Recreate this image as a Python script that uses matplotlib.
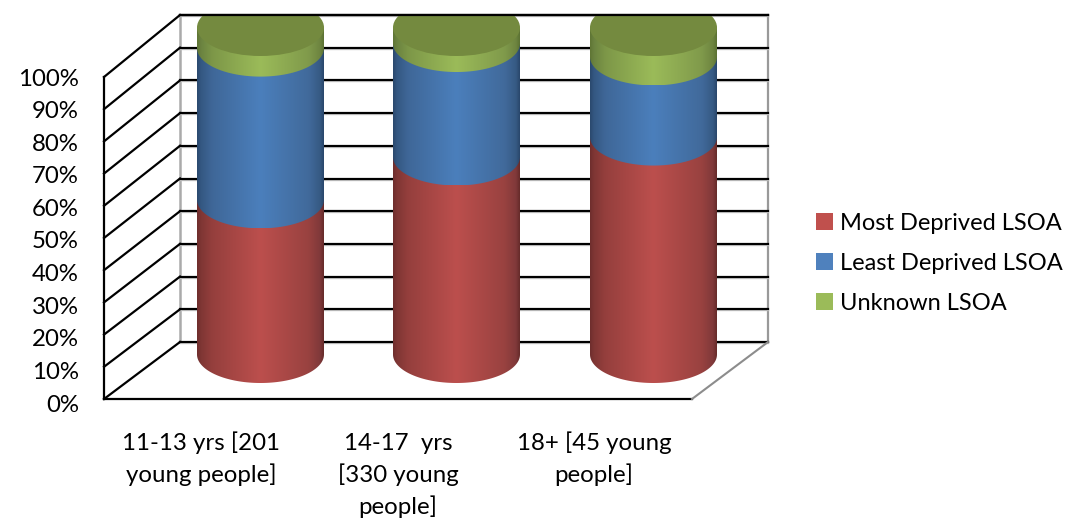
import numpy as np
import matplotlib
matplotlib.use("Agg")
import matplotlib.pyplot as plt
from matplotlib.patches import Polygon, Rectangle, Ellipse
from matplotlib.colors import LinearSegmentedColormap

categories = ["11-13 yrs [201\nyoung people]", "14-17  yrs\n[330 young\npeople]", "18+ [45 young\npeople]"]
series_names = ["Most Deprived LSOA", "Least Deprived LSOA", "Unknown LSOA"]
most_deprived = [47.3, 60.4, 66.5]
least_deprived = [46.4, 34.7, 24.5]
unknown = [6.3, 4.9, 9.0]
tick_values = list(range(0, 101, 10))

plt.rcParams["font.family"] = ["Lato", "DejaVu Sans"]
FS = 17.3
fig = plt.figure(figsize=(10.65, 5.21), dpi=100)
ax = fig.add_axes([0, 0, 1, 1])
ax.set_xlim(0, 1065)
ax.set_ylim(521, 0)
ax.axis("off")

# wall geometry
FX0, FX1, FY0, FY100 = 104, 692, 399, 77
BX0, BX1, BY0, BY100 = 180, 768, 342, 15
def fy(v): return FY0 + (FY100 - FY0) * v / 100
def by(v): return BY0 + (BY100 - BY0) * v / 100

LW = 1.6
ax.plot([BX1, BX1], [BY100, BY0], color="#999999", lw=1.6, zorder=1)
ax.plot([BX0, BX0], [BY100, BY0], color="#aaaaaa", lw=1.8, zorder=1)
for v in tick_values:
    y = by(v)
    ax.plot([BX0, BX1], [y + 1, y + 1], color="#cccccc", lw=1.0, zorder=1)
    ax.plot([BX0, BX1], [y, y], color="black", lw=LW, zorder=1.2)
    ax.plot([FX0, BX0], [fy(v), y], color="black", lw=LW, zorder=1.2)
    ax.text(79, 405 - 3.26 * v, f"{v}%", ha="right", va="center", fontsize=FS, color="black")
ax.plot([FX0, FX0], [FY100, FY0], color="black", lw=LW, zorder=1.2)
ax.plot([FX0, FX1], [FY0, FY0], color="black", lw=LW, zorder=1.2)
ax.plot([FX1, BX1], [FY0, BY0], color="#8c8c8c", lw=1.5, zorder=1.2)

# cylinders
centers = [260.5, 456.5, 653.5]
A, B = 63.5, 28.5
C0, SCALE = 354.5, 3.27
def cy(v): return C0 - SCALE * v

stops = [0, 0.03, 0.12, 0.5, 0.88, 0.97, 1]
ramps = [
    ["#6e2e2d", "#7f3634", "#953f3d", "#bc4f4d", "#994240", "#80393a", "#662b2a"],
    ["#2b496e", "#345882", "#3f6798", "#4b7fbc", "#416a9b", "#365a84", "#2a476b"],
    ["#5f7535", "#6b8340", "#7d9748", "#9bbb59", "#809a4b", "#6e8540", "#5c7233"],
]
cmaps = [LinearSegmentedColormap.from_list(f"c{i}", list(zip(stops, r))) for i, r in enumerate(ramps)]
grad = np.linspace(0, 1, 256)[None, :]
t = np.linspace(np.pi, 0, 80)

stack = np.array([most_deprived, least_deprived, unknown])
bases = np.vstack([np.zeros(3), np.cumsum(stack, axis=0)[:-1]])
z = 2.0
for i, cx in enumerate(centers):
    for s in range(3):
        lo, hi = cy(bases[s, i]), cy(bases[s, i] + stack[s, i])
        arc = np.column_stack([cx + A * np.cos(t), lo + B * np.sin(t)])
        pts = np.vstack([[cx - A, hi], arc, [cx + A, hi]])
        poly = Polygon(pts, closed=True, facecolor="none", edgecolor="none", zorder=z)
        ax.add_patch(poly)
        im = ax.imshow(grad, cmap=cmaps[s], extent=[cx - A, cx + A, lo + B, hi],
                       aspect="auto", zorder=z, interpolation="bilinear")
        im.set_clip_path(poly)
        z += 0.1
    top = cy(bases[2, i] + stack[2, i])
    clip = Rectangle((cx - A - 2, BY100), 2 * A + 4, 100, transform=ax.transData)
    e = Ellipse((cx, top), 2 * A, 2 * B, facecolor="#748a3f", edgecolor="none", zorder=z)
    ax.add_patch(e)
    e.set_clip_path(clip)
    z += 0.1
ax.plot([BX0, BX1], [BY100, BY100], color="black", lw=LW, zorder=z)
ax.set_xlim(0, 1065)
ax.set_ylim(521, 0)

# category labels
label_x = [201, 398, 594]
for x, c in zip(label_x, categories):
    for j, line in enumerate(c.split("\n")):
        ax.text(x, 443 + j * 32, line, ha="center", va="center", fontsize=FS, color="black")

# legend
legend_colors = ["#c0504d", "#4f81bd", "#9bbb59"]
for j, (name, col) in enumerate(zip(series_names, legend_colors)):
    y = 221 + j * 40
    ax.add_patch(Rectangle((816, y - 8.5), 17, 17, facecolor=col, edgecolor="none"))
    ax.text(840, y + 2, name, ha="left", va="center", fontsize=17, color="black")

fig.savefig("out.png", dpi=100)
